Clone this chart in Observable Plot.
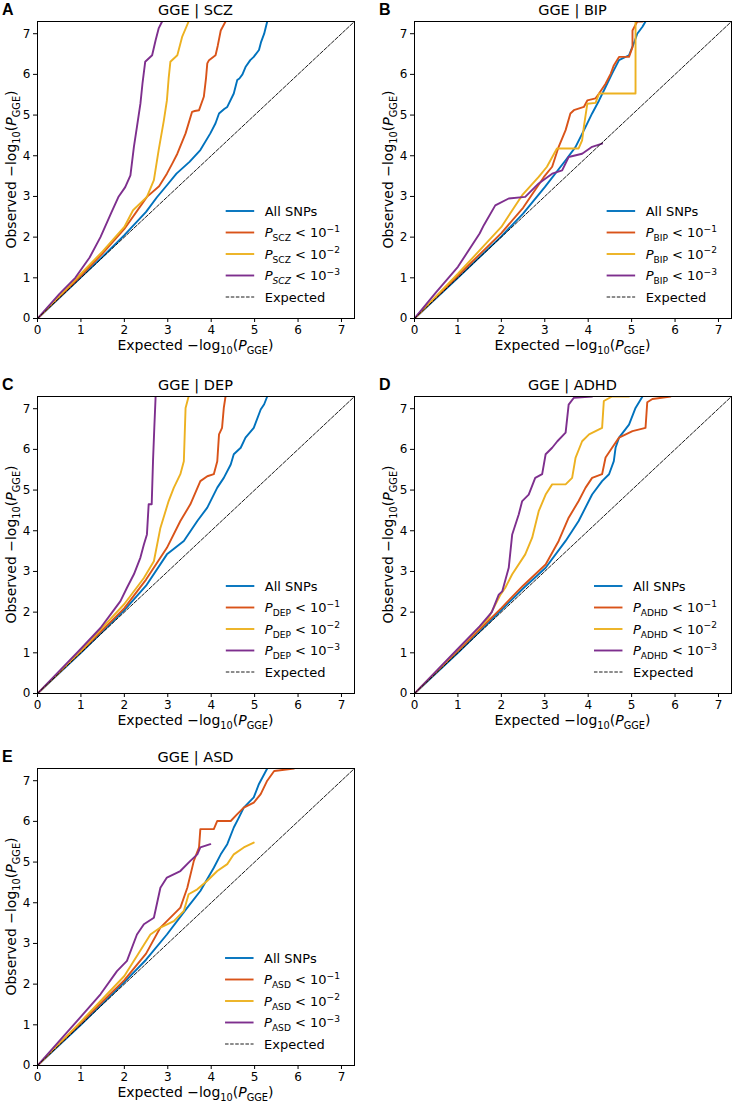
<!DOCTYPE html>
<html><head><meta charset="utf-8">
<script src="https://cdn.jsdelivr.net/npm/d3@7"></script>
<script src="https://cdn.jsdelivr.net/npm/@observablehq/plot@0.6"></script>
<style>
body{margin:0;background:#fff;overflow:hidden}
#fig{position:relative;width:733px;height:1104px;font-family:"DejaVu Sans",sans-serif}
.panel{position:absolute}
text{white-space:pre}
</style></head><body><div id="fig"></div>
<script>
// ---------- labels & categories ----------
const panelLetters = ["A", "B", "C", "D", "E"];
const traits = ["SCZ", "BIP", "DEP", "ADHD", "ASD"];
const seriesNames = ["All SNPs", "P < 10^-1", "P < 10^-2", "P < 10^-3"];
const thresholdExps = [1, 2, 3];
const seriesColors = ["#0072BD", "#D95319", "#EDB120", "#7E2F8E"];
const axisTicks = [0, 1, 2, 3, 4, 5, 6, 7];
const axisDomain = [0, 7.3];
const expectedDiag = [0, 7.3];

// ---------- series values: [expected -log10 P, observed -log10 P] ----------
const sczAll = [[0,0],[0.5,0.5],[1,1.01],[1.5,1.52],[2,2.05],[2.5,2.62],[2.75,2.98],[3.0,3.3],[3.2,3.56],[3.5,3.85],[3.75,4.14],[3.98,4.55],[4.1,4.8],[4.18,5.04],[4.3,5.15],[4.37,5.2],[4.52,5.53],[4.6,5.86],[4.65,5.9],[4.72,6.0],[4.79,6.18],[4.9,6.35],[4.98,6.43],[5.1,6.6],[5.15,6.8],[5.22,7.0],[5.29,7.3]];
const sczP1 = [[0,0],[0.5,0.52],[1,1.05],[1.5,1.6],[2,2.2],[2.52,2.99],[2.8,3.25],[2.98,3.56],[3.1,3.8],[3.22,4.05],[3.41,4.55],[3.56,5.08],[3.62,5.1],[3.72,5.12],[3.83,5.45],[3.88,5.9],[3.91,6.27],[3.95,6.35],[4.1,6.47],[4.15,6.7],[4.22,7.08],[4.33,7.3]];
const sczP2 = [[0,0],[0.5,0.55],[1,1.1],[1.5,1.65],[2,2.25],[2.2,2.66],[2.52,2.99],[2.68,3.4],[2.79,4.14],[2.91,4.87],[2.98,5.36],[3.02,5.9],[3.06,6.31],[3.22,6.47],[3.33,6.92],[3.48,7.3]];
const sczP3 = [[0,0],[0.5,0.6],[0.87,1.0],[1.2,1.5],[1.45,2.0],[1.7,2.6],[1.87,3.0],[2.02,3.23],[2.14,3.52],[2.22,4.22],[2.29,4.71],[2.37,5.28],[2.42,5.8],[2.48,6.31],[2.64,6.47],[2.72,6.84],[2.79,7.13],[2.87,7.3]];

const bipAll = [[0,0],[1,1.0],[2,2.02],[2.5,2.58],[3,3.23],[3.48,3.89],[3.71,4.22],[3.94,4.71],[4.09,5.04],[4.25,5.36],[4.4,5.69],[4.55,6.02],[4.71,6.35],[4.94,6.47],[5.05,6.76],[5.13,7.0],[5.25,7.17],[5.32,7.3]];
const bipP1 = [[0,0],[1,1.05],[2,2.1],[2.5,2.72],[2.98,3.48],[3.17,3.73],[3.32,4.22],[3.48,4.63],[3.59,5.04],[3.67,5.12],[3.9,5.2],[3.98,5.36],[4.17,5.41],[4.25,5.53],[4.4,5.77],[4.52,6.02],[4.59,6.22],[4.71,6.43],[4.94,6.43],[5.02,6.67],[5.02,7.08],[5.13,7.3],[5.25,7.3]];
const bipP2 = [[0,0],[1,1.1],[2,2.25],[2.48,3.03],[2.86,3.48],[3.05,3.73],[3.28,4.18],[3.78,4.18],[3.86,4.38],[3.9,4.71],[3.98,5.28],[4.17,5.3],[4.25,5.53],[5.09,5.53],[5.09,7.3]];
const bipP3 = [[0,0],[0.5,0.65],[1,1.27],[1.5,2.09],[1.6,2.3],[1.86,2.78],[2.17,2.95],[2.55,2.99],[2.86,3.32],[3.17,3.56],[3.4,3.64],[3.55,3.97],[3.86,4.05],[4.09,4.22],[4.32,4.3]];

const depAll = [[0,0],[1,1.0],[2,2.05],[2.5,2.65],[2.98,3.42],[3.37,3.75],[3.68,4.24],[3.91,4.57],[4.14,5.06],[4.29,5.3],[4.45,5.63],[4.52,5.88],[4.68,6.04],[4.79,6.29],[4.98,6.53],[5.14,6.98],[5.22,7.11],[5.29,7.3]];
const depP1 = [[0,0],[1,1.03],[2,2.1],[2.5,2.8],[2.98,3.58],[3.29,4.24],[3.52,4.65],[3.75,5.22],[3.91,5.34],[4.06,5.39],[4.14,5.71],[4.18,6.37],[4.25,6.53],[4.29,7.02],[4.33,7.3]];
const depP2 = [[0,0],[1,1.05],[2,2.2],[2.45,2.84],[2.68,3.25],[2.83,4.07],[3.02,4.73],[3.14,5.06],[3.29,5.39],[3.37,5.71],[3.41,7.02],[3.48,7.3]];
const depP3 = [[0,0],[0.5,0.55],[1,1.1],[1.45,1.61],[1.68,1.94],[1.91,2.27],[2.06,2.6],[2.22,2.93],[2.37,3.34],[2.45,3.66],[2.52,3.91],[2.56,4.65],[2.63,4.65],[2.66,5.71],[2.69,6.53],[2.72,7.3]];

const adhdAll = [[0,0],[1,1.0],[2,2.05],[2.5,2.58],[3.02,3.09],[3.48,3.75],[3.78,4.24],[4.09,4.89],[4.32,5.22],[4.48,5.39],[4.59,5.71],[4.63,6.04],[4.71,6.29],[4.94,6.61],[5.09,7.02],[5.25,7.3]];
const adhdP1 = [[0,0],[1,1.05],[2,2.1],[2.5,2.65],[3.02,3.17],[3.32,3.75],[3.55,4.32],[3.78,4.73],[3.94,5.06],[4.09,5.3],[4.32,5.39],[4.4,5.8],[4.55,6.04],[4.71,6.29],[5.02,6.45],[5.32,6.53],[5.36,7.16],[5.48,7.24],[5.9,7.3]];
const adhdP2 = [[0,0],[1,1.08],[1.7,1.85],[1.98,2.43],[2.09,2.6],[2.25,2.93],[2.55,3.42],[2.71,3.83],[2.86,4.48],[3.02,4.89],[3.17,5.14],[3.48,5.14],[3.63,5.3],[3.71,5.8],[3.86,6.2],[4.02,6.37],[4.32,6.53],[4.36,7.19],[4.55,7.3],[4.94,7.3]];
const adhdP3 = [[0,0],[0.5,0.55],[1,1.1],[1.5,1.65],[1.78,2.0],[1.94,2.43],[2.02,2.51],[2.17,3.09],[2.25,3.91],[2.4,4.4],[2.48,4.73],[2.63,4.89],[2.78,5.3],[2.94,5.39],[3.02,5.88],[3.17,6.04],[3.29,6.2],[3.48,6.41],[3.55,7.1],[3.67,7.27],[4.09,7.3]];

const asdAll = [[0,0],[1,1.0],[2,2.05],[2.5,2.6],[2.98,3.22],[3.45,3.88],[3.75,4.29],[4.06,4.86],[4.22,5.19],[4.37,5.44],[4.52,5.85],[4.64,6.1],[4.75,6.34],[4.98,6.59],[5.1,6.92],[5.22,7.16],[5.29,7.3]];
const asdP1 = [[0,0],[1,1.05],[2,2.1],[2.5,2.75],[2.83,3.39],[3.29,3.88],[3.45,4.37],[3.6,5.03],[3.72,5.36],[3.75,5.81],[4.06,5.81],[4.14,6.01],[4.45,6.01],[4.6,6.18],[4.75,6.34],[4.98,6.46],[5.14,6.67],[5.29,7.0],[5.45,7.24],[5.91,7.3]];
const asdP2 = [[0,0],[1,1.08],[2,2.2],[2.6,3.22],[2.83,3.39],[3.14,3.55],[3.37,3.8],[3.48,4.21],[3.68,4.33],[3.91,4.54],[4.14,4.78],[4.37,4.95],[4.52,5.19],[4.75,5.36],[4.98,5.48]];
const asdP3 = [[0,0],[0.5,0.6],[1,1.2],[1.45,1.75],[1.83,2.32],[2.06,2.57],[2.29,3.22],[2.45,3.47],[2.68,3.63],[2.83,4.37],[2.98,4.62],[3.29,4.78],[3.52,5.03],[3.68,5.19],[3.75,5.36],[3.98,5.44]];

const panelSeries = [
  [sczAll, sczP1, sczP2, sczP3],
  [bipAll, bipP1, bipP2, bipP3],
  [depAll, depP1, depP2, depP3],
  [adhdAll, adhdP1, adhdP2, adhdP3],
  [asdAll, asdP1, asdP2, asdP3]
];

// ---------- layout ----------
const FW = 317, FH = 297;           // frame size
const ML = 45, MT = 28, MR = 2, MB = 42;
const frames = [[37, 21], [414, 21], [37, 396], [414, 396], [37, 768]];

function addRich(g, segs, attrs) {
  const fs = attrs["font-size"];
  const t = g.append("text").attr("text-anchor", "start");
  for (const [k, v] of Object.entries(attrs)) t.attr(k, v);
  let cur = 0;
  segs.forEach(s => {
    const target = (s.sub ? 0.3 : s.sup ? -0.42 : 0) * fs;
    const ts = t.append("tspan").text(s.t).attr("dy", target - cur);
    cur = target;
    if (s.sub || s.sup) ts.attr("font-size", fs * 0.7);
    if (s.it) ts.attr("font-style", "italic");
  });
  return t;
}

const fig = document.getElementById("fig");

panelSeries.forEach((series, pi) => {
  const trait = traits[pi];
  const rows = [];
  series.forEach((pts, si) => pts.forEach(([x, y]) => rows.push({x, y, s: si})));
  const chart = Plot.plot({
    width: ML + FW + MR, height: MT + FH + MB,
    marginLeft: ML, marginTop: MT, marginRight: MR, marginBottom: MB,
    style: {fontFamily: "DejaVu Sans, sans-serif", fontSize: "12px", background: "transparent", overflow: "visible", color: "black"},
    x: {domain: axisDomain, label: null},
    y: {domain: axisDomain, label: null},
    marks: [
      ...seriesColors.map((c, si) => Plot.line(rows.filter(d => d.s === si), {
        x: "x", y: "y", stroke: c, strokeWidth: 1.9, strokeLinejoin: "round", clip: true
      })),
      Plot.line(expectedDiag, {x: d => d, y: d => d, stroke: "black", strokeWidth: 0.9, strokeDasharray: "3.5,1.6", clip: true}),
      Plot.frame({stroke: "black", strokeWidth: 1}),
      Plot.axisX({ticks: axisTicks, tickSize: 4, tickPadding: 3, fontSize: 12, label: null}),
      Plot.axisY({ticks: axisTicks, tickSize: 4, tickPadding: 3, fontSize: 12, label: null})
    ]
  });
  const wrap = document.createElement("div");
  wrap.className = "panel";
  wrap.style.left = (frames[pi][0] - ML) + "px";
  wrap.style.top = (frames[pi][1] - MT) + "px";
  wrap.appendChild(chart);
  fig.appendChild(wrap);

  const svg = d3.select(chart);
  const fr = {l: ML, t: MT, r: ML + FW, b: MT + FH};
  const g = svg.append("g").attr("font-family", "DejaVu Sans, sans-serif").attr("fill", "black").attr("text-anchor", "start");

  // panel letter
  g.append("text").attr("x", fr.l - 35).attr("y", fr.t - 6).attr("text-anchor", "start")
    .attr("font-family", "Liberation Sans, Arial, sans-serif").attr("font-weight", "bold")
    .attr("font-size", 16).text(panelLetters[pi]);
  // title
  g.append("text").attr("x", fr.l + FW / 2).attr("y", fr.t - 6).attr("text-anchor", "middle")
    .attr("font-size", 14.5).text("GGE | " + trait);
  // x label
  addRich(g, [{t: "Expected −log"}, {t: "10", sub: true}, {t: "("}, {t: "P", it: true}, {t: "GGE", sub: true}, {t: ")"}],
    {x: fr.l + FW / 2, y: fr.b + 32, "text-anchor": "middle", "font-size": 14});
  // y label
  addRich(g, [{t: "Observed −log"}, {t: "10", sub: true}, {t: "("}, {t: "P", it: true}, {t: "GGE", sub: true}, {t: ")"}],
    {x: -(fr.t + FH / 2), y: fr.l - 21, transform: "rotate(-90)", "text-anchor": "middle", "font-size": 14});

  // legend (lower right, inside frame)
  const items = seriesNames.map((name, si) => si === 0
    ? {segs: [{t: name}], color: seriesColors[si]}
    : {segs: [{t: "P", it: true}, {t: trait, sub: true, it: (pi === 0 && si === 3)}, {t: " < 10"}, {t: "−" + thresholdExps[si - 1], sup: true}], color: seriesColors[si]});
  items.push({segs: [{t: "Expected"}], color: "black", dash: true});
  const lg = g.append("g");
  const texts = items.map(it => addRich(lg, it.segs, {x: 0, y: 0, "font-size": 13}));
  const maxW = d3.max(texts, t => t.node().getComputedTextLength());
  const textX = fr.r - 14 - maxW;
  const lineX1 = textX - 10.5, lineX0 = lineX1 - 28.5;
  items.forEach((it, i) => {
    const cy = fr.b - 21 - (items.length - 1 - i) * 21.5;
    texts[i].attr("x", textX).attr("y", cy + 4.6);
    lg.append("line").attr("x1", lineX0).attr("x2", lineX1).attr("y1", cy).attr("y2", cy)
      .attr("stroke", it.color).attr("stroke-width", it.dash ? 0.9 : 1.9)
      .attr("stroke-dasharray", it.dash ? "3.5,1.6" : null);
  });
});
</script></body></html>
